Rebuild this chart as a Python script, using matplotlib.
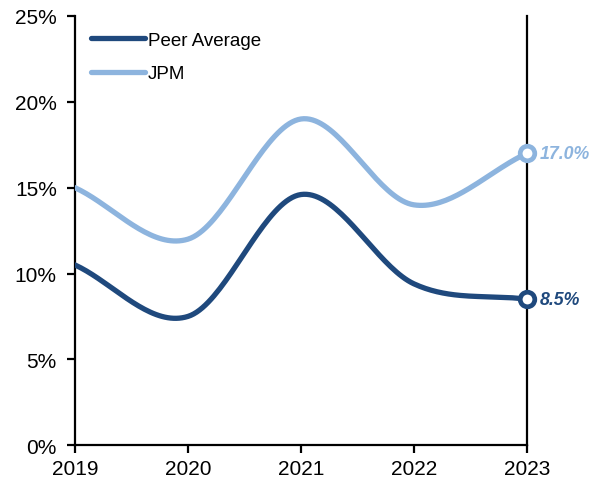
import numpy as np
import matplotlib
matplotlib.use("Agg")
import matplotlib.pyplot as plt
from matplotlib.ticker import FuncFormatter

plt.rcParams['font.family'] = ['Liberation Sans', 'DejaVu Sans']

years = [2019, 2020, 2021, 2022, 2023]
peer_average = [10.5, 7.5, 14.6, 9.4, 8.5]
jpm = [15.0, 12.0, 19.0, 14.0, 17.0]

DARK = '#1F497D'
LIGHT = '#8DB4DE'


def smooth(x, y, n=40):
    """Catmull-Rom spline through the points (Excel-style smoothed line)."""
    x = np.asarray(x, float)
    y = np.asarray(y, float)
    px = np.concatenate([[2 * x[0] - x[1]], x, [2 * x[-1] - x[-2]]])
    py = np.concatenate([[2 * y[0] - y[1]], y, [2 * y[-1] - y[-2]]])
    xs, ys = [], []
    t = np.linspace(0, 1, n)
    for i in range(1, len(px) - 2):
        for p, out in ((px, xs), (py, ys)):
            p0, p1, p2, p3 = p[i - 1], p[i], p[i + 1], p[i + 2]
            seg = 0.5 * ((2 * p1) + (-p0 + p2) * t
                         + (2 * p0 - 5 * p1 + 4 * p2 - p3) * t ** 2
                         + (-p0 + 3 * p1 - 3 * p2 + p3) * t ** 3)
            out.extend(seg if i == 1 else seg[1:])
    return np.array(xs), np.array(ys)


fig = plt.figure(figsize=(5.9, 4.85), dpi=100)
ax = fig.add_axes([0.127, 0.080, 0.766, 0.885])

for vals, color, label in ((peer_average, DARK, 'Peer Average'), (jpm, LIGHT, 'JPM')):
    sx, sy = smooth(years, vals)
    ax.plot(sx, sy, color=color, lw=3.8, solid_capstyle='round', label=label, zorder=3)
    ax.plot(years[-1], vals[-1], marker='o', ms=10.5, mfc='white', mec=color, mew=3.4,
            zorder=4, clip_on=False)
    ax.annotate(f'{vals[-1]:.1f}%', (years[-1], vals[-1]), xytext=(9, 0),
                textcoords='offset points', va='center', ha='left',
                fontsize=12.8, fontweight='bold', fontstyle='italic', color=color,
                annotation_clip=False)

ax.set_xlim(2019, 2023)
ax.set_ylim(0, 25)
ax.set_xticks(years)
ax.set_yticks(np.arange(0, 26, 5))
ax.yaxis.set_major_formatter(FuncFormatter(lambda v, p: f'{v:.0f}%'))

ax.spines['top'].set_visible(False)
for s in ('left', 'right', 'bottom'):
    ax.spines[s].set_linewidth(1.6)
    ax.spines[s].set_color('black')

ax.tick_params(axis='both', direction='out', length=6, width=1.6, labelsize=15,
               colors='black')
ax.tick_params(axis='y', pad=7)
ax.tick_params(axis='x', pad=4)

leg = ax.legend(loc='upper left', frameon=False, fontsize=13.5, handlelength=2.9,
                handletextpad=0.15, labelspacing=0.85, borderaxespad=0.45,
                bbox_to_anchor=(0.0, 1.0))

fig.savefig('out.png', dpi=100)
